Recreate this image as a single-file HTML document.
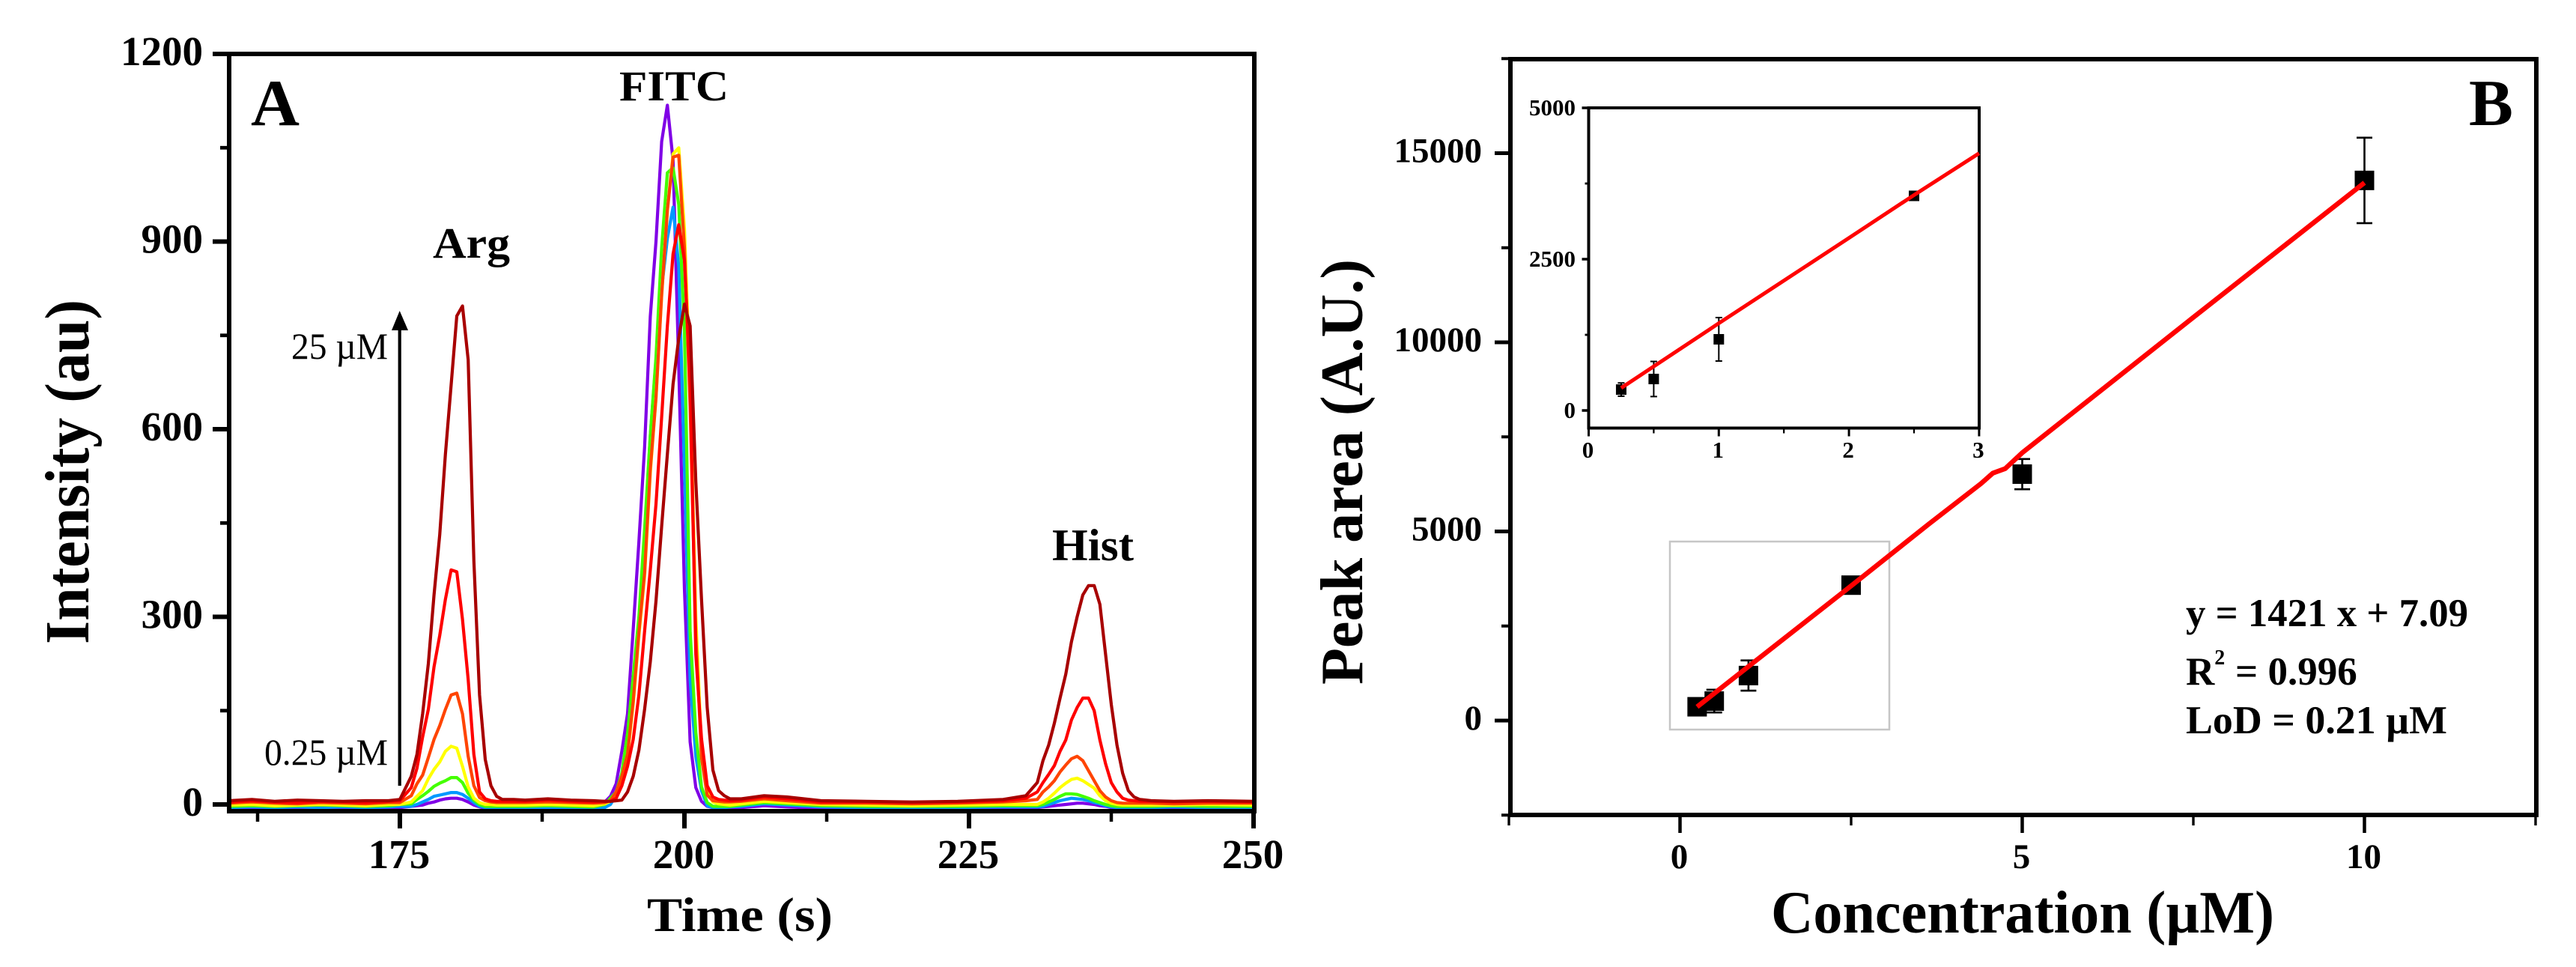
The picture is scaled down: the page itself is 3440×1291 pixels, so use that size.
<!DOCTYPE html>
<html lang="en">
<head>
<meta charset="utf-8">
<title>Peak intensity and calibration chart</title>
<style>
html,body{margin:0;padding:0;background:#fff;}
svg{display:block;}
text{font-family:"Liberation Serif","DejaVu Serif",serif;fill:#000;}
.b{font-weight:bold;}
</style>
</head>
<body>
<svg id="chart" xmlns="http://www.w3.org/2000/svg" width="3440" height="1291" viewBox="0 0 3440 1291">
  <rect x="0" y="0" width="3440" height="1291" fill="#fff"/>
  <defs>
    <clipPath id="clipA"><rect x="306" y="72" width="1369" height="1010"/></clipPath>
  </defs>
  <g id="panelA">
    <g id="seriesA" clip-path="url(#clipA)"></g>
    <rect x="306" y="72" width="1369" height="1011" fill="none" stroke="#000" stroke-width="6"/>
    <g id="axesA"></g>
    <text class="b" x="335" y="167" font-size="88" textLength="65" lengthAdjust="spacingAndGlyphs">A</text>
    <text class="b" x="827" y="134" font-size="57" textLength="146" lengthAdjust="spacingAndGlyphs">FITC</text>
    <text class="b" x="578" y="344" font-size="58" textLength="103" lengthAdjust="spacingAndGlyphs">Arg</text>
    <text class="b" x="1405" y="748" font-size="60" textLength="109" lengthAdjust="spacingAndGlyphs">Hist</text>
    <text x="389" y="479" font-size="50" textLength="129" lengthAdjust="spacingAndGlyphs">25 µM</text>
    <text x="353" y="1021" font-size="50" textLength="165" lengthAdjust="spacingAndGlyphs">0.25 µM</text>
    <line x1="533.7" y1="1049" x2="533.7" y2="436" stroke="#000" stroke-width="4.2"/>
    <polygon points="533.7,415 545,441 523,441" fill="#000"/>
    <text class="b" x="864" y="1243" font-size="65" textLength="248" lengthAdjust="spacingAndGlyphs">Time (s)</text>
    <text class="b" transform="translate(118,860) rotate(-90)" font-size="84" textLength="460" lengthAdjust="spacingAndGlyphs">Intensity (au)</text>
  </g>
  <g id="panelB">
    <rect x="2017" y="79" width="1370" height="1009" fill="none" stroke="#000" stroke-width="6"/>
    <g id="axesB"></g>
    <rect x="2230" y="723" width="293" height="251" fill="none" stroke="#c6c6c6" stroke-width="2.5"/>
    <g id="marksB"></g>
    <g id="inset">
      <rect x="2121.5" y="144" width="521.5" height="427.5" fill="none" stroke="#000" stroke-width="4"/>
      <g id="axesInset"></g>
      <g id="marksInset"></g>
    </g>
    <text class="b" x="3297" y="167" font-size="88" textLength="59" lengthAdjust="spacingAndGlyphs">B</text>
    <text class="b" x="2919" y="836" font-size="53" textLength="377" lengthAdjust="spacingAndGlyphs">y = 1421 x + 7.09</text>
    <text class="b" x="2919" y="914" font-size="53">R<tspan font-size="28" dy="-27">2</tspan><tspan x="2985" dy="27">= 0.996</tspan></text>
    <text class="b" x="2919" y="979" font-size="53" textLength="349" lengthAdjust="spacingAndGlyphs">LoD = 0.21 µM</text>
    <text class="b" x="2365" y="1245" font-size="80" textLength="672" lengthAdjust="spacingAndGlyphs">Concentration (µM)</text>
    <text class="b" transform="translate(1819,914) rotate(-90)" font-size="80" textLength="568" lengthAdjust="spacingAndGlyphs">Peak area (A.U.)</text>
  </g>
</svg>
<script>
/* Panel A: sample times (s), grouped as baseline / Arg / gap / FITC / gap / Hist / tail */
const times = [
  160,162,164,166,168,170,172,174,175,176,
  176.5,177,177.5,178,178.5,179,179.5,180,180.5,181,181.5,182,182.5,183,183.5,184,
  185,186,188,190,192,
  193,193.5,194,194.5,195,195.5,196,196.5,197,197.5,198,198.5,199,199.5,200,200.5,201,201.5,202,202.5,203,203.5,204,
  205,207,209,212,216,220,224,228,230,231,
  231.5,232,232.5,233,233.5,234,234.5,235,235.5,236,236.5,237,237.5,238,238.5,239,239.5,240,
  241,243,246,250];
const traceViolet = [
  -6,-7,-6,-6,-7,-6,-6,-5,-5,-3,
  -2,-1,2,4,7,9,10,10,8,4,-1,-4,-6,-7,-7,-7,
  -7,-7,-7,-7,-6,
  4,13,33,85,145,280,420,571,780,900,1060,1118,1030,700,345,100,27,5,-3,-5,-6,-6,-6,
  -5,-2,-4,-6,-6,-7,-6,-5,-5,-5,
  -4,-3,-2,-1,0,1,2,2,1,0,-2,-3,-5,-6,-6,-6,-6,-6,
  -6,-5,-6,-6];
const traceBlue = [
  -5,-4,-5,-4,-5,-4,-5,-4,-3,-3,
  0,4,8,13,15,17,19,19,16,10,3,-3,-5,-6,-6,-6,
  -6,-6,-6,-5,-6,
  -5,0,15,40,95,185,285,430,590,710,825,905,955,860,540,200,77,22,-2,-5,-5,-5,-4,
  -3,1,-1,-4,-5,-5,-5,-4,-4,-4,
  -3,0,3,6,8,10,9,8,6,3,1,-2,-4,-5,-5,-5,-5,-5,
  -5,-4,-5,-5];
const traceGreen = [
  -3,-2,-3,-2,-1,-2,-3,-2,0,1,
  8,14,21,29,34,38,43,43,35,18,7,0,-3,-3,-3,-3,
  -3,-3,-2,-3,-4,
  0,10,20,50,113,205,300,440,590,715,891,1010,1018,959,760,277,115,28,3,-3,-3,-3,-3,
  -1,3,1,-2,-3,-3,-3,-2,-2,-2,
  0,4,8,13,17,17,16,13,10,6,3,0,-2,-3,-3,-3,-3,-3,
  -3,-2,-3,-3];
const traceYellow = [
  -1,0,-2,-1,0,-1,-2,0,0,4,
  13,22,41,56,68,85,93,90,61,28,10,3,0,0,-1,-1,
  -1,-1,0,-1,-2,
  1,5,18,42,78,160,270,365,530,650,815,950,1040,1050,920,670,300,90,20,4,1,0,-1,
  1,5,3,0,-1,-2,-1,0,0,0,
  4,10,18,27,34,40,42,38,32,26,14,6,2,0,-1,-1,-1,-1,
  -1,-1,0,-1];
const traceOrange = [
  2,4,2,1,3,2,1,3,3,14,
  33,47,75,104,126,152,175,178,145,77,30,11,6,4,3,3,
  3,3,4,3,2,
  3,6,20,45,80,165,275,370,535,650,815,950,1035,1038,890,636,270,75,15,6,5,4,4,
  5,9,6,2,2,1,2,4,6,8,
  20,28,38,52,63,73,77,70,54,38,22,12,6,3,2,2,2,2,
  2,1,2,2];
const traceRed = [
  4,6,4,3,5,4,3,5,6,27,
  58,108,152,220,270,328,375,372,296,200,80,20,9,6,5,5,
  5,5,7,5,4,
  5,5,10,30,61,104,175,277,375,480,620,765,880,927,870,680,240,105,30,12,8,7,6,
  7,12,9,4,4,3,4,6,10,20,
  35,48,62,85,103,135,155,170,170,150,103,65,35,20,10,7,6,5,
  5,4,5,4];
const traceDarkRed = [
  6,8,5,7,6,5,6,6,8,45,
  80,145,225,335,431,560,670,781,797,711,390,175,72,30,13,8,
  8,7,9,7,6,
  5,5,6,7,20,45,87,152,228,325,445,560,672,745,800,765,516,328,155,55,22,14,9,
  9,14,12,6,5,4,5,8,14,35,
  70,95,130,170,208,260,300,335,350,350,320,240,160,95,50,22,12,8,
  6,5,6,5];
const seriesNames = ["violet","blue","green","yellow","orange","red","dark-red"];
const seriesColors = ["#8000e6","#0099ff","#44ff00","#ffff00","#ff4400","#ff0000","#a80000"];
const seriesValues = [traceViolet,traceBlue,traceGreen,traceYellow,traceOrange,traceRed,traceDarkRed];
const aYMajor = [0,300,600,900,1200];
const aYMinor = [150,450,750,1050];
const aXMajor = [175,200,225,250];
const aXMinor = [162.5,187.5,212.5,237.5];

/* Panel B: calibration points */
const concentrations = [0.25,0.5,1,2.5,5,10];
const peakAreas = [365,515,1190,3580,6515,14280];
const peakErrors = [120,300,400,60,400,1130];
const fitConc = [0.25,1,2.5,3.63,4.4,4.57,4.75,5,7.5,10];
const fitArea = [362,1430,3560,5188,6270,6540,6660,7080,10660,14220];
const bYMajor = [0,5000,10000,15000];
const bYMinor = [-2500,2500,7500,12500,17500];
const bXMajor = [0,5,10];
const bXMinor = [-2.5,2.5,7.5,12.5];

/* Inset */
const insetConc = [0.25,0.5,1,2.5];
const insetAreas = [345,520,1176,3546];
const insetErrors = [110,290,359,20];
const insetFitConc = [0.25,1,2,2.5,3];
const insetFitArea = [371,1440,2850,3560,4250];
const inYMajor = [0,2500,5000];
const inYMinor = [1250,3750];
const inXMajor = [0,1,2,3];
const inXMinor = [0.5,1.5,2.5];

const NS = "http://www.w3.org/2000/svg";
function mk(tag, parent, attrs){
  const el = document.createElementNS(NS, tag);
  for (const k in attrs) el.setAttribute(k, attrs[k]);
  parent.appendChild(el);
  return el;
}
const xA = t => 534 + 15.2 * (t - 175);
const yA = v => 1074 - 0.835 * v;
const xB = c => 2243.5 + 91.4 * c;
const yB = v => 962 - 0.0505 * v;
const xI = c => 2121.5 + 173.8 * c;
const yI = v => 548 - 0.0808 * v;

function linePath(xs, ys, fx, fy){
  return xs.map((x, i) => fx(x).toFixed(1) + "," + fy(ys[i]).toFixed(1)).join(" ");
}

/* traces */
const seriesA = document.getElementById("seriesA");
seriesValues.forEach((vals, i) => {
  const el = mk("polyline", seriesA, {points: linePath(times, vals, xA, yA), fill: "none", stroke: seriesColors[i], "stroke-width": 4.2, "stroke-linejoin": "round"});
  
  
});

function yTicks(g, majors, minors, fy, edge, majLen, minLen, w, labelX, size, dy, bold){
  minors.forEach(v => {
    const t = mk("line", g, {x1: edge - minLen, x2: edge, y1: fy(v), y2: fy(v), stroke: "#000", "stroke-width": w * 0.8});
    
    
  });
  majors.forEach(v => {
    const t = mk("line", g, {x1: edge - majLen, x2: edge, y1: fy(v), y2: fy(v), stroke: "#000", "stroke-width": w});
    
    
    const l = mk("text", g, {x: labelX, y: fy(v) + dy, "font-size": size, "text-anchor": "end", "font-weight": bold ? "bold" : "normal"});
    l.textContent = String(v);
    
    
  });
}
function xTicks(g, majors, minors, fx, edge, majLen, minLen, w, labelY, size, bold){
  minors.forEach(v => {
    const t = mk("line", g, {x1: fx(v), x2: fx(v), y1: edge, y2: edge + minLen, stroke: "#000", "stroke-width": w * 0.75});
    
    
  });
  majors.forEach(v => {
    const t = mk("line", g, {x1: fx(v), x2: fx(v), y1: edge, y2: edge + majLen, stroke: "#000", "stroke-width": w});
    
    
    const l = mk("text", g, {x: fx(v) - 1, y: labelY, "font-size": size, "text-anchor": "middle", "font-weight": bold ? "bold" : "normal"});
    l.textContent = String(v);
    
    
  });
}
const axesA = document.getElementById("axesA");
yTicks(axesA, aYMajor, aYMinor, yA, 306, 22, 12, 6, 271, 55, 15, true);
xTicks(axesA, aXMajor, aXMinor, xA, 1083, 23, 14, 6, 1159, 55, true);
const axesB = document.getElementById("axesB");
yTicks(axesB, bYMajor, bYMinor, yB, 2017, 21, 12, 5, 1979, 47, 12, true);
xTicks(axesB, bXMajor, bXMinor, xB, 1088, 24, 14, 4.5, 1159, 47, true);
const axesInset = document.getElementById("axesInset");
yTicks(axesInset, inYMajor, inYMinor, yI, 2121.5, 9, 5, 3.5, 2104, 31, 10, true);
xTicks(axesInset, inXMajor, inXMinor, xI, 571.5, 11, 7, 3, 611, 31, true);

function scatter(g, xs, ys, errs, fx, fy, size, capW, lw){
  xs.forEach((c, i) => {
    const cx = fx(c), cy = fy(ys[i]);
    const top = fy(ys[i] + errs[i]), bot = fy(ys[i] - errs[i]);
    const v = mk("line", g, {x1: cx, x2: cx, y1: top, y2: bot, stroke: "#000", "stroke-width": lw});
    
    
    [top, bot].forEach(y => {
      const cap = mk("line", g, {x1: cx - capW / 2, x2: cx + capW / 2, y1: y, y2: y, stroke: "#000", "stroke-width": lw});
      
      
    });
    const s = mk("rect", g, {x: cx - size / 2, y: cy - size / 2, width: size, height: size, fill: "#000"});
    
    
  });
}
const marksB = document.getElementById("marksB");
scatter(marksB, concentrations, peakAreas, peakErrors, xB, yB, 26, 21, 2.6);
const fitB = mk("polyline", marksB, {points: linePath(fitConc, fitArea, xB, yB), fill: "none", stroke: "#ff0000", "stroke-width": 6.5});


const marksInset = document.getElementById("marksInset");
scatter(marksInset, insetConc, insetAreas, insetErrors, xI, yI, 14, 9, 2);
const fitI = mk("polyline", marksInset, {points: linePath(insetFitConc, insetFitArea, xI, yI), fill: "none", stroke: "#ff0000", "stroke-width": 5});


</script>
</body>
</html>
